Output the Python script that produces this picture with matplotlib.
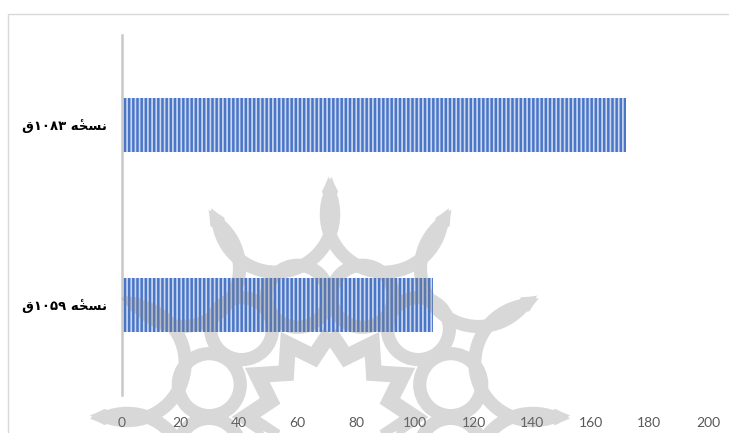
import matplotlib
matplotlib.use('Agg')
import matplotlib.pyplot as plt
import numpy as np
from matplotlib.path import Path
from matplotlib.patches import PathPatch, Polygon, Rectangle
from matplotlib.transforms import IdentityTransform

# manuscript copies and their counts
copies = ['نسخهٔ ۱۰۵۹ق', 'نسخهٔ ۱۰۸۳ق']
counts = [106, 172]
xticks = list(range(0, 201, 20))

# contextual forms (isolated, final, initial, medial) for the letters used
FORMS = {
    'ن': ('\uFEE5', '\uFEE6', '\uFEE7', '\uFEE8'),
    'س': ('\uFEB1', '\uFEB2', '\uFEB3', '\uFEB4'),
    'خ': ('\uFEA5', '\uFEA6', '\uFEA7', '\uFEA8'),
    'ه': ('\uFEE9', '\uFEEA', '\uFEEB', '\uFEEC'),
    'ق': ('\uFED5', '\uFED6', '\uFED7', '\uFED8'),
}
MARKS = {'\u0654'}


def shape_rtl(text):
    # group base letters with their combining marks
    clusters = []
    for ch in text:
        if ch in MARKS and clusters:
            clusters[-1] += ch
        else:
            clusters.append(ch)
    shaped = []
    for i, cl in enumerate(clusters):
        base = cl[0]
        if base in FORMS:
            prev_j = i > 0 and clusters[i - 1][0] in FORMS
            next_j = i + 1 < len(clusters) and clusters[i + 1][0] in FORMS
            idx = {(False, False): 0, (True, False): 1,
                   (False, True): 2, (True, True): 3}[(prev_j, next_j)]
            cl = FORMS[base][idx] + cl[1:]
        shaped.append(cl)
    # digit runs stay left-to-right, letter runs and run order are reversed
    runs = []
    for cl in shaped:
        is_digit = '\u06F0' <= cl[0] <= '\u06F9'
        if runs and runs[-1][0] == is_digit:
            runs[-1][1].append(cl)
        else:
            runs.append((is_digit, [cl]))
    out = []
    for is_digit, cls in reversed(runs):
        out.append(''.join(cls if is_digit else reversed(cls)))
    return ''.join(out)


W, H = 729, 433


def emblem_mask():
    # rosette drawn in black on a scratch canvas, returned as a coverage mask
    f = plt.figure(figsize=(W / 100, H / 100), dpi=100)
    cx, cy = 330, H - 417
    n = 12
    lw = 9.5

    def pt(r, a):
        return (cx + r * np.cos(a), cy + r * np.sin(a))

    # outline that trims the outer rings down to scallops with slim spikes
    side = [(205, 15), (214, 5), (222, 2.6), (232, 1.2)]
    env = []
    for k in range(n):
        a = 30 * k
        env += [pt(r, np.deg2rad(a - da)) for r, da in side]
        env.append(pt(244, np.deg2rad(a)))
        env += [pt(r, np.deg2rad(a + da)) for r, da in reversed(side[1:])]
    clip = Polygon(env, closed=True, transform=IdentityTransform())
    for k in range(n):
        ring = PathPatch(Path.circle(pt(210, np.deg2rad(15 + 30 * k)), 58),
                         transform=IdentityTransform(), fill=False,
                         color='k', linewidth=lw)
        f.add_artist(ring)
        ring.set_clip_path(clip)
    # inner ring of small circles
    for k in range(n):
        circ = Path.circle(pt(125, np.deg2rad(15 + 30 * k)), 31)
        f.add_artist(PathPatch(circ, transform=IdentityTransform(), fill=False,
                               color='k', linewidth=lw))
    # central star
    star = [pt(84 if k % 2 == 0 else 62, np.deg2rad(90 + 15 * k)) for k in range(2 * n)]
    f.add_artist(Polygon(star, closed=True, transform=IdentityTransform(),
                         fill=False, color='k', linewidth=lw + 2, joinstyle='miter'))
    f.canvas.draw()
    buf = np.asarray(f.canvas.buffer_rgba()).astype(float)
    plt.close(f)
    return 1 - buf[..., 0] / 255.0


fig = plt.figure(figsize=(W / 100, H / 100), dpi=100)
ax = fig.add_axes([122 / W, 1 - 395 / H, (708 - 122) / W, (395 - 35) / H])

plt.rcParams['hatch.linewidth'] = 1.2
y = np.arange(len(copies))
ax.barh(y, counts, height=0.305, color='#4a76c8',
        edgecolor=(1, 1, 1, 0.72), linewidth=0, hatch='||||', zorder=2)

ax.set_xlim(0, 200)
ax.set_ylim(-0.5, 1.5)
ax.set_xticks(xticks)
ax.set_xticklabels([str(t) for t in xticks], fontsize=10, color='#595959',
                   family='Lato')
ax.set_yticks(y)
ax.set_yticklabels([shape_rtl(c) for c in copies], fontsize=9.5,
                   fontweight='bold', family='DejaVu Sans', color='black')
ax.tick_params(axis='x', length=0, pad=16)
ax.tick_params(axis='y', length=0, pad=11)
for s in ['top', 'right', 'bottom']:
    ax.spines[s].set_visible(False)
ax.spines['left'].set_color('#c8c8c8')
ax.spines['left'].set_linewidth(1.8)

# chart frame
fig.add_artist(Rectangle((8, -10), 800, H - 14 + 10, transform=IdentityTransform(),
                         fill=False, edgecolor='#d9d9d9', linewidth=1))

# translucent grey emblem over the whole chart
mask = emblem_mask()
overlay = np.zeros((H, W, 4))
overlay[..., :3] = 0.5
overlay[..., 3] = 0.3 * mask
fig.figimage(overlay, 0, 0, origin='upper', zorder=10)

fig.savefig('out.png', dpi=100)
